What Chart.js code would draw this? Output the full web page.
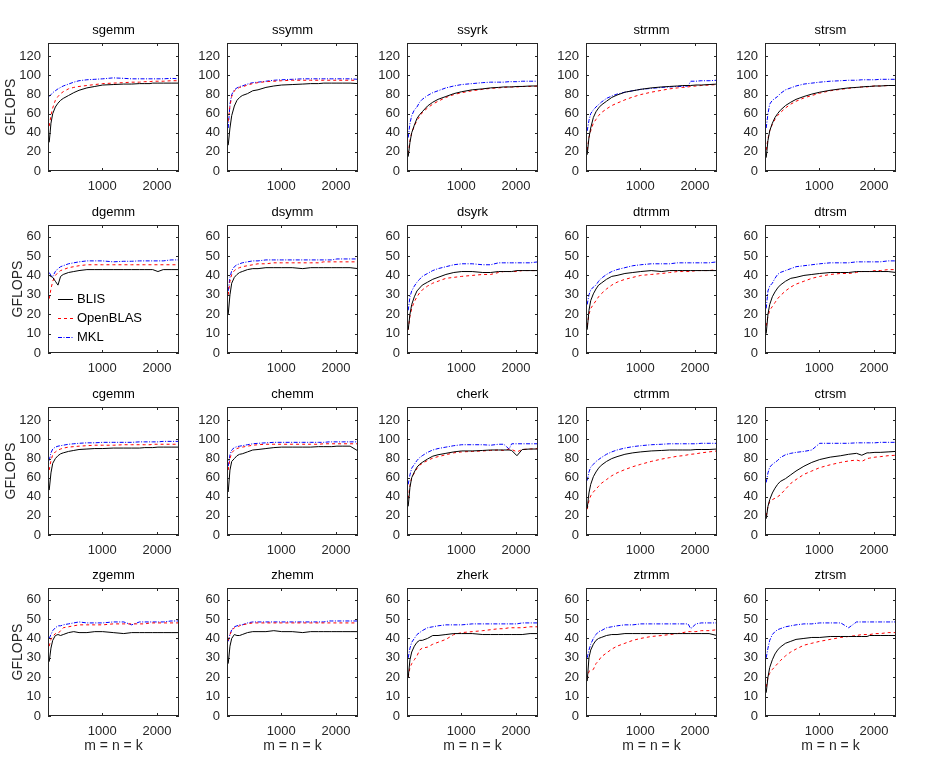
<!DOCTYPE html>
<html>
<head>
<meta charset="utf-8">
<script src="https://cdn.jsdelivr.net/npm/chart.js@4.4.1/dist/chart.umd.min.js"></script>
<style>
  body { margin: 0; background: #fff; }
  #grid { position: relative; width: 942px; height: 758px; }
  #grid canvas { position: absolute; }
</style>
</head>
<body>
<div id="grid"></div>
<script>
  // problem sizes m = n = k
  const sizes = [32, 64, 96, 144, 192, 240, 288, 384, 480, 576, 720, 864, 1008, 1200, 1392, 1536, 1680, 1776, 1872, 1920, 2016, 2112, 2256, 2400];

  const routines = ['sgemm', 'ssymm', 'ssyrk', 'strmm', 'strsm',
                    'dgemm', 'dsymm', 'dsyrk', 'dtrmm', 'dtrsm',
                    'cgemm', 'chemm', 'cherk', 'ctrmm', 'ctrsm',
                    'zgemm', 'zhemm', 'zherk', 'ztrmm', 'ztrsm'];
  const libraries = ['BLIS', 'OpenBLAS', 'MKL'];

  const xTicks = [1000, 2000];
  const singleTicks = [0, 20, 40, 60, 80, 100, 120];
  const doubleTicks = [0, 10, 20, 30, 40, 50, 60];
  const singleMax = 134;
  const doubleMax = 66;

  // GFLOPS per routine: [BLIS, OpenBLAS, MKL]
  const sgemm = [
    [30, 50, 60, 67, 71, 74, 76, 79, 82, 84.5, 87, 88.5, 90, 90.5, 91, 91, 91.5, 91.5, 91.5, 92, 92, 92, 92, 92],
    [47, 58, 66, 74, 78, 81, 83, 86, 87.5, 88.5, 89.5, 90.5, 91.5, 92, 92.5, 93, 93, 93.5, 93.5, 94, 94, 94, 94.5, 94.5],
    [78, 80, 82, 84, 86, 87.5, 89, 91, 93, 94.5, 95.5, 96, 96.5, 97.5, 97, 96.5, 96.5, 96.5, 96.5, 96.5, 96.5, 96.5, 97, 96.5]
  ];
  const ssymm = [
    [27, 45, 58, 68, 74, 77, 79, 81, 84, 85, 87.5, 89, 90, 90.5, 91, 91.5, 91.5, 92, 92, 92, 92, 92, 92, 91.5],
    [52, 68, 78, 84, 86, 87.5, 88, 90, 91.5, 92.5, 93.5, 94, 94.5, 95, 95, 95, 95, 95, 95, 95, 95, 95, 95, 95],
    [45, 70, 80, 85, 87, 88.5, 89, 91, 92.5, 93, 94, 95, 95.5, 96, 96.5, 96.5, 96.5, 96.5, 96.5, 96.5, 96.5, 96.5, 96.5, 96]
  ];
  const ssyrk = [
    [15, 30, 40, 48, 55, 59, 62, 68, 72, 75, 78, 81, 83, 85, 86, 87, 87.5, 88, 88, 88, 88.5, 88.5, 89, 89],
    [18, 32, 40, 47, 53, 57, 61, 66, 70, 73, 77, 80, 82, 84, 85.5, 86.5, 87, 87.5, 88, 88, 88, 88.5, 88.5, 89],
    [35, 50, 58, 64, 67, 72, 75, 79, 82, 84, 87, 89, 90.5, 91.5, 92.5, 93, 93, 93, 93.5, 93.5, 93.5, 94, 94, 94]
  ];
  const strmm = [
    [17, 35, 45, 56, 62, 66, 69, 73, 77, 79.5, 82.5, 84, 85.5, 87, 88, 88.5, 89, 89.5, 89.5, 89.5, 90, 90, 90.5, 91],
    [22, 35, 42, 50, 54, 58, 61, 65, 68.5, 71, 74.5, 77.5, 80, 82.5, 84.5, 86, 87, 87.5, 88, 88.5, 89, 89.5, 90, 90.5],
    [42, 53, 60, 64, 67, 69.5, 72, 76, 78.5, 80.5, 82.5, 84, 85.5, 86.5, 87.5, 88, 88.5, 88.5, 89, 94, 94, 94.5, 94.5, 95]
  ];
  const strsm = [
    [14, 32, 42, 50, 56, 60, 63.5, 68.5, 72, 75, 78, 80.5, 82.5, 84.5, 86, 87, 87.5, 88, 88.5, 88.5, 89, 89, 89.5, 89.5],
    [22, 34, 42, 49, 54, 58, 61, 66, 70, 73, 76.5, 79, 81.5, 84, 85.5, 86.5, 87.5, 88, 88, 88.5, 89, 89, 89.5, 89.5],
    [45, 60, 70, 74, 76, 78, 81, 85, 87, 89, 91, 92, 93, 94, 94.5, 95, 95, 95.5, 95.5, 95.5, 95.5, 96, 96, 96]
  ];
  const dgemm = [
    [40, 39.5, 39, 37, 35, 39.5, 40.5, 41.5, 42, 42.5, 43, 43, 43, 43, 43, 43, 43, 43, 43, 43, 42, 43, 43, 43],
    [28, 33, 37, 40, 41.5, 42.5, 43, 44, 44.5, 45, 45.5, 45.5, 45.5, 45.5, 45.5, 45.5, 45.5, 45.5, 45.5, 45.5, 45.5, 45.5, 45.5, 45.5],
    [41.5, 40, 39.5, 42, 43.5, 44.5, 45, 46, 46.5, 47, 47.5, 47.5, 47.5, 47, 47.3, 47.3, 47.5, 47.5, 47.5, 47.5, 47.5, 47.5, 48, 48]
  ];
  const dsymm = [
    [20, 30, 36, 39, 40.5, 41.5, 42, 43, 43.5, 43.5, 44, 44, 44, 44, 43.5, 44, 44, 44, 44, 44, 44, 44, 44, 43.5],
    [30, 37, 40.5, 42.5, 43.5, 44, 44.5, 45, 45.5, 46, 46, 46.5, 46.5, 46.5, 46.5, 46.5, 46.5, 47, 47, 47, 47, 47, 47, 47],
    [32, 39, 42.5, 44.5, 45.5, 46, 46.5, 47, 47.5, 47.5, 48, 48, 48, 48, 48, 48, 48, 48, 48, 48, 48.5, 48.5, 48.5, 48.5]
  ];
  const dsyrk = [
    [12, 20, 25, 29, 32, 33.5, 35, 36.5, 38, 39, 40.5, 41.5, 42, 42, 41.5, 41.5, 42, 42, 42, 42, 42.5, 42.5, 42.5, 42.5],
    [12, 19, 23, 26.5, 29, 31, 32.5, 34.5, 36, 37, 38.5, 39, 39.5, 40, 40.5, 40.5, 41.5, 42, 42, 42, 42, 42.5, 42.5, 42.5],
    [22, 29, 32, 34.5, 36.5, 38, 39.5, 41, 42.5, 43.5, 44.5, 45.5, 46, 46, 45.5, 45.5, 46.5, 46.5, 46.5, 46.5, 46.5, 46.5, 46.5, 47]
  ];
  const dtrmm = [
    [12, 22, 27, 30.5, 33, 35, 36, 38, 39.5, 40, 41, 41.5, 42, 42.5, 42, 42.5, 42.5, 42.5, 42.5, 42.5, 42.5, 42.5, 42.5, 42.5],
    [14, 20, 23, 25, 27, 29, 30.5, 33, 35, 36.5, 38, 39, 40, 40.5, 41, 41.5, 42, 42, 42, 42, 42.5, 42.5, 42.5, 43],
    [25, 30, 32.5, 34, 35, 37, 38.5, 40.5, 42, 43, 44, 45, 45.5, 46, 46, 46, 46.5, 46.5, 46.5, 46.5, 46.5, 46.5, 46.5, 47]
  ];
  const dtrsm = [
    [10, 20, 25, 29, 31.5, 33.5, 35, 37, 38.5, 39, 40, 40.5, 41, 41.5, 41.5, 41.5, 42, 42, 42, 42, 42, 42, 42, 41.5],
    [14, 19, 22, 24, 26, 28, 29.5, 32, 34, 35.5, 37, 38.5, 39.5, 40.5, 41, 41, 41.5, 42, 42, 42, 42.5, 42.5, 43, 43],
    [23, 32, 34.5, 36, 38.5, 40.5, 41.5, 42.5, 43.5, 44.5, 45, 45.5, 46, 46.5, 46.5, 46.5, 47, 47, 47, 47, 47, 47, 47.5, 47.5]
  ];
  const cgemm = [
    [47, 65, 75, 80, 83, 85, 86, 87.5, 88.5, 89.5, 90, 90.5, 90.5, 91, 91, 91, 91, 91.5, 91.5, 91.5, 92, 92, 92, 92],
    [68, 78, 84, 87, 89, 90, 91, 92, 92.5, 93, 93.5, 94, 94, 94, 94.5, 94.5, 94.5, 94.5, 94.5, 95, 95, 95, 95, 95],
    [78, 86, 90, 92, 93, 93.5, 94, 95, 95.5, 96, 96.5, 96.5, 97, 97, 97, 97, 97.5, 97.5, 97.5, 97.5, 97.5, 98, 98, 98]
  ];
  const chemm = [
    [45, 68, 77, 80, 83, 84.5, 85, 87, 89, 89.5, 90.5, 91.5, 92, 92, 92, 92, 92.5, 92.5, 92.5, 92.5, 93, 93, 93, 88],
    [68, 80, 86, 89, 90.5, 91.5, 92, 93, 94, 94.5, 95, 95, 95, 95, 95, 95, 95, 95.5, 95.5, 95.5, 95.5, 95.5, 95.5, 95.5],
    [72, 84, 89, 91.5, 92.5, 93, 93.5, 94.5, 95.5, 96, 96.5, 97, 97, 97, 97, 97, 97, 97, 97.5, 97.5, 97.5, 97.5, 97.5, 97.5]
  ];
  const cherk = [
    [30, 50, 60, 66, 71, 74, 76, 79.5, 82.5, 84, 85.5, 87, 88, 88, 88.5, 89, 89, 89, 89, 88.5, 83, 89.5, 90, 90],
    [38, 52, 60, 65, 69.5, 73, 75, 78, 80.5, 82, 84, 86, 87, 87.5, 88, 88.5, 89, 88.5, 90, 89.5, 87, 89.5, 90, 90.5],
    [53, 63, 70, 74, 78, 81, 83, 86.5, 89, 90.5, 92, 93.5, 94.5, 94.5, 94.5, 94, 95, 95, 90, 95.5, 95.5, 95.5, 95.5, 95.5]
  ];
  const ctrmm = [
    [28, 44, 53, 61, 66, 70, 73, 77, 80, 82, 84.5, 86, 87, 88, 88.5, 89, 89, 89, 89, 89, 89.5, 89.5, 89.5, 90],
    [27, 36, 41, 45, 48, 51, 54, 58, 62, 65, 68.5, 71.5, 74, 77, 79.5, 81, 82.5, 83, 84, 84.5, 85, 86, 87, 88],
    [57, 66, 71, 74, 77, 79, 81, 84.5, 87, 89, 91, 92.5, 93.5, 94.5, 95, 95.5, 95.5, 95.5, 95.5, 95.5, 95.5, 96, 96, 96]
  ];
  const ctrsm = [
    [17, 30, 37, 44, 49, 53, 56, 59, 63, 67, 72, 76, 79, 81.5, 83, 84.5, 85.5, 83.5, 86, 86, 86.5, 86.5, 87, 87.5],
    [20, 30, 35, 37, 38.5, 40, 42, 48, 54, 58, 63.5, 67, 70.5, 73.5, 76, 77.5, 78.5, 77, 80, 80.5, 81.5, 82, 83, 83.5],
    [55, 65, 71, 74, 76, 78, 81, 84, 85.5, 86.5, 87.5, 89, 96, 96, 96, 96, 96.5, 96.5, 96.5, 96.5, 96.5, 97, 97, 97]
  ];
  const zgemm = [
    [28, 35, 39, 41.5, 42, 41.5, 42, 43, 43.5, 43, 43, 43.5, 43.5, 43, 42.5, 43, 43, 43, 43, 43, 43, 43, 43, 43],
    [36, 39.5, 41, 42.5, 42.5, 44, 45.5, 46, 46.5, 47, 47, 47, 47, 47.5, 47.5, 47.5, 47.5, 47.5, 48, 48, 48, 48, 48, 48],
    [40, 42, 44, 45.5, 46.5, 46.5, 47, 47.5, 48, 48.5, 48, 48, 48, 48.5, 48.5, 47, 48.5, 48.5, 48.5, 48.5, 48.5, 48.5, 49, 49]
  ];
  const zhemm = [
    [27, 36, 40, 42, 41.5, 41.5, 42, 43, 43.5, 43.5, 43.5, 44, 43.5, 43.5, 43, 43.5, 43.5, 43.5, 43.5, 43.5, 43.5, 43.5, 43.5, 43.5],
    [39, 42, 44, 45.5, 46, 46.5, 47, 47.5, 48, 48, 48, 48, 48, 48, 48, 48, 48, 48, 48, 48, 48, 48, 48, 48],
    [38.5, 42, 44.5, 46, 46.5, 47, 47, 48, 48.5, 48.5, 48.5, 48.5, 48.5, 48.5, 48.5, 48.5, 48.5, 48.5, 49, 49, 49, 49, 49, 49]
  ];
  const zherk = [
    [20, 29, 33, 36, 38, 39, 39, 40, 41.5, 41.5, 42, 42.5, 42.5, 42.5, 42, 42, 42, 42, 42, 42, 42, 42, 42.5, 42.5],
    [20, 25, 27, 29, 31, 34, 35, 35.5, 37, 38, 39.5, 42, 43, 43.5, 44, 44.5, 45, 45, 45.5, 45.5, 45.5, 45.5, 46, 46],
    [30, 35, 38, 40, 42, 43, 44, 45.5, 46, 46.5, 47, 47, 47, 47.5, 47.5, 47.5, 47.5, 47.5, 47.5, 47.5, 47.5, 48, 48, 48]
  ];
  const ztrmm = [
    [18, 30, 34, 37, 39, 40, 40.5, 41.5, 42, 42, 42.5, 42.5, 42.5, 42.5, 42.5, 42.5, 42.5, 42.5, 42.5, 42.5, 42.5, 42.5, 42.5, 41.5],
    [19, 23, 23.5, 24, 27, 28.5, 30.5, 32.5, 34.5, 36, 37.5, 39, 40, 41, 41.5, 42, 42.5, 43, 43.5, 43.5, 43.5, 44, 44, 44.5],
    [30, 34, 37, 40, 42, 43.5, 44, 45.5, 46, 46.5, 47, 47, 47.5, 47.5, 47.5, 47.5, 47.5, 47.5, 47.5, 45, 47.5, 48, 48, 48]
  ];
  const ztrsm = [
    [12, 20, 25, 29, 32, 34, 35.5, 37.5, 38.5, 39.5, 40, 40.5, 40.5, 41, 41, 41, 41, 41, 41, 41.5, 41.5, 41.5, 41.5, 41.5],
    [15, 20, 22, 24, 25.5, 27, 28.5, 31, 33, 34.5, 36.5, 37.5, 38.5, 39.5, 40.5, 41, 41.5, 42, 42, 42, 42.5, 42.5, 43, 43],
    [30, 35, 39, 42, 43.5, 44.5, 45, 46, 46.5, 47, 47.5, 47.5, 48, 48, 48, 45.5, 48.5, 48.5, 48.5, 48.5, 48.5, 48.5, 48.5, 48.5]
  ];

  const results = [sgemm, ssymm, ssyrk, strmm, strsm,
                   dgemm, dsymm, dsyrk, dtrmm, dtrsm,
                   cgemm, chemm, cherk, ctrmm, ctrsm,
                   zgemm, zhemm, zherk, ztrmm, ztrsm];

  const lineColors = ['#000000', '#ff0000', '#0000ff'];
  const lineDashes = [[], [3, 3], [4, 1.5, 1, 1.5]];

  // plot box positions on the page
  const plotLeft = [48, 227, 407, 586, 765];
  const plotTop = [43, 225, 407, 588];
  const plotW = 131, plotH = 128, axisW = 48, titleH = 30;

  const fontFamily = '"Liberation Sans", Arial, sans-serif';
  Chart.defaults.font.family = fontFamily;
  Chart.defaults.font.size = 13;
  Chart.defaults.color = '#262626';

  // box round the plot, ticks pointing inwards, panel title above
  const framePlugin = {
    id: 'frame',
    afterDatasetsDraw(chart, args, opts) {
      const { ctx, chartArea: a, scales: { x, y } } = chart;
      const t = 3;
      ctx.save();
      ctx.strokeStyle = '#262626';
      ctx.lineWidth = 1;
      ctx.setLineDash([]);
      ctx.beginPath();
      x.ticks.forEach(tk => {
        const px = Math.round(x.getPixelForValue(tk.value)) + 0.5;
        ctx.moveTo(px, a.bottom); ctx.lineTo(px, a.bottom - t);
        ctx.moveTo(px, a.top); ctx.lineTo(px, a.top + t);
      });
      y.ticks.forEach(tk => {
        const py = Math.round(y.getPixelForValue(tk.value)) + 0.5;
        ctx.moveTo(a.left, py); ctx.lineTo(a.left + t, py);
        ctx.moveTo(a.right, py); ctx.lineTo(a.right - t, py);
      });
      ctx.stroke();
      ctx.strokeRect(Math.round(a.left) + 0.5, Math.round(a.top) + 0.5,
                     Math.round(a.right - a.left) - 1, Math.round(a.bottom - a.top) - 1);

      ctx.fillStyle = '#000';
      ctx.font = '13px ' + fontFamily;
      ctx.textAlign = 'center';
      ctx.textBaseline = 'middle';
      ctx.fillText(opts.text, (a.left + a.right) / 2, a.top - 13);
      ctx.restore();
    }
  };

  // legend inside the dgemm panel
  const insideLegend = {
    id: 'insideLegend',
    afterDraw(chart, args, opts) {
      if (!opts.show) return;
      const { ctx, chartArea: a } = chart;
      ctx.save();
      ctx.font = '13px ' + fontFamily;
      ctx.textBaseline = 'middle';
      chart.data.datasets.forEach((ds, i) => {
        const yy = Math.round(a.top + 74 + i * 19) + 0.5;
        ctx.strokeStyle = ds.borderColor;
        ctx.lineWidth = 1;
        ctx.setLineDash(ds.borderDash);
        ctx.beginPath();
        ctx.moveTo(a.left + 10, yy);
        ctx.lineTo(a.left + 25, yy);
        ctx.stroke();
        ctx.fillStyle = '#000';
        ctx.fillText(ds.label, a.left + 29, yy);
      });
      ctx.restore();
    }
  };

  const grid = document.getElementById('grid');

  routines.forEach((name, idx) => {
    const row = Math.floor(idx / 5);
    const col = idx % 5;
    const single = row % 2 === 0;
    const lastRow = row === 3;
    const xAxisH = lastRow ? 42 : 24;

    const canvas = document.createElement('canvas');
    canvas.width = axisW + plotW + 2;
    canvas.height = titleH + plotH + xAxisH;
    canvas.style.left = (plotLeft[col] - axisW) + 'px';
    canvas.style.top = (plotTop[row] - titleH) + 'px';
    grid.appendChild(canvas);

    const datasets = libraries.map((lib, i) => ({
      label: lib,
      data: sizes.map((s, j) => ({ x: s, y: results[idx][i][j] })),
      borderColor: lineColors[i],
      borderDash: lineDashes[i],
      borderWidth: 1,
      pointRadius: 0,
      tension: 0,
      fill: false
    }));

    new Chart(canvas, {
      type: 'line',
      data: { datasets },
      plugins: [framePlugin, insideLegend],
      options: {
        responsive: false,
        animation: false,
        layout: { padding: { left: 0, right: 2, top: titleH, bottom: 0 } },
        plugins: {
          legend: { display: false },
          tooltip: { enabled: false },
          title: { display: false },
          frame: { text: name },
          insideLegend: { show: name === 'dgemm' }
        },
        scales: {
          x: {
            type: 'linear',
            min: 10,
            max: 2400,
            grid: { display: false, drawTicks: false, tickLength: 0 },
            border: { display: false },
            afterBuildTicks: s => { s.ticks = xTicks.map(v => ({ value: v })); },
            afterFit: s => { s.height = xAxisH; s.paddingLeft = 0; s.paddingRight = 0; },
            ticks: { padding: 8, maxRotation: 0, autoSkip: false, callback: v => String(v) },
            title: {
              display: lastRow,
              text: 'm = n = k',
              font: { size: 14 },
              padding: { top: 0, bottom: 3.6 }
            }
          },
          y: {
            min: 0,
            max: single ? singleMax : doubleMax,
            grid: { display: false, drawTicks: false, tickLength: 0 },
            border: { display: false },
            afterBuildTicks: s => { s.ticks = (single ? singleTicks : doubleTicks).map(v => ({ value: v })); },
            afterFit: s => { s.width = axisW; s.paddingTop = 0; s.paddingBottom = 0; },
            ticks: { padding: 7, autoSkip: false, callback: v => String(v) },
            title: {
              display: col === 0,
              text: 'GFLOPS',
              font: { size: 14 },
              padding: { top: single ? 2.6 : 9.6, bottom: 0 }
            }
          }
        }
      }
    });
  });
</script>
</body>
</html>
